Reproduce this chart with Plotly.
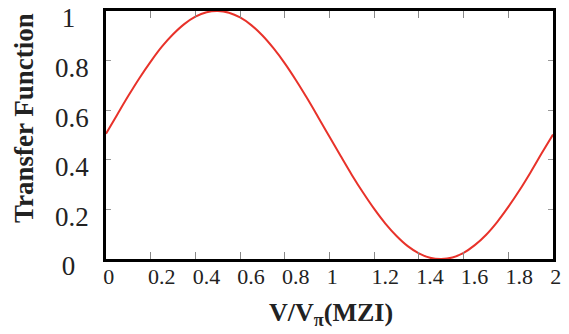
import plotly.graph_objects as go

# Data (MZI transfer function)
v_ratio = [0.00, 0.05, 0.10, 0.15, 0.20, 0.25, 0.30, 0.35, 0.40, 0.45,
           0.50, 0.55, 0.60, 0.65, 0.70, 0.75, 0.80, 0.85, 0.90, 0.95,
           1.00, 1.05, 1.10, 1.15, 1.20, 1.25, 1.30, 1.35, 1.40, 1.45,
           1.50, 1.55, 1.60, 1.65, 1.70, 1.75, 1.80, 1.85, 1.90, 1.95, 2.00]
transfer = [0.505, 0.582, 0.658, 0.730, 0.796, 0.856, 0.906, 0.947, 0.977, 0.995,
            1.000, 0.993, 0.974, 0.943, 0.901, 0.849, 0.789, 0.721, 0.648, 0.571,
            0.493, 0.415, 0.339, 0.268, 0.202, 0.143, 0.093, 0.052, 0.023, 0.005,
            0.000, 0.006, 0.025, 0.056, 0.097, 0.149, 0.210, 0.277, 0.350, 0.427, 0.502]

x_tickvals = [0, 0.2, 0.4, 0.6, 0.8, 1.0, 1.2, 1.4, 1.6, 1.8, 2.0]
x_ticktext = ["0\u2008\u2007", "0.2", "0.4", "0.6", "0.8", "1\u2008\u2007",
              "1.2", "1.4", "1.6", "1.8", "2\u2008\u2007"]
y_tickvals = [0, 0.2, 0.4, 0.6, 0.8, 1.0]
y_ticktext = ["0\u2007", "0.2", "0.4", "0.6", "0.8", "1\u2007"]

x_title = "V/V<sub>\u03c0</sub>(MZI)"
y_title = "Transfer Function"

SERIF = "Liberation Serif, Times New Roman, serif"

fig = go.Figure()
fig.add_trace(go.Scatter(
    x=v_ratio, y=transfer, mode="lines",
    line=dict(color="#e8322a", width=2, shape="spline"),
    hoverinfo="skip", showlegend=False,
))

# The page body adds an 8px offset, so the figure is 8px smaller on each axis
fig.update_layout(
    template="none",
    width=561, height=326,
    margin=dict(l=98, r=16, t=2.5, b=74.5),
    paper_bgcolor="white", plot_bgcolor="white",
    showlegend=False,
    font=dict(family=SERIF, color="#222"),
)

fig.update_xaxes(
    automargin=False,
    range=[0, 2], tickvals=x_tickvals, ticktext=x_ticktext,
    ticks="inside", ticklen=7, tickwidth=1, tickcolor="#888",
    showline=True, linecolor="black", linewidth=2.5, mirror="ticks",
    showgrid=False, zeroline=False,
    tickfont=dict(family=SERIF, size=22, color="#222"),
    ticklabelshift=11, ticklabelstandoff=-4, ticklabeloverflow="allow",
)
fig.update_yaxes(
    automargin=False,
    range=[0, 1], tickvals=y_tickvals, ticktext=y_ticktext,
    ticks="inside", ticklen=5, tickwidth=1, tickcolor="#999",
    showline=True, linecolor="black", linewidth=2.5, mirror="ticks",
    showgrid=False, zeroline=False,
    tickfont=dict(family=SERIF, size=27, color="#222"),
    ticklabelshift=7, ticklabelstandoff=9, ticklabeloverflow="allow",
)

fig.add_annotation(
    text=y_title, xref="paper", yref="paper",
    x=(24 - 106) / 447, y=(259.5 - 118) / 249,
    xanchor="center", yanchor="middle", textangle=-90, showarrow=False,
    font=dict(family=SERIF, size=27, color="#222", weight="bold"),
)
fig.add_annotation(
    text=x_title, xref="paper", yref="paper",
    x=(331 - 106) / 447, y=(259.5 - 315) / 249,
    xanchor="center", yanchor="middle", showarrow=False,
    font=dict(family=SERIF, size=26, color="#222", weight="bold"),
)

fig.write_html("out.html")
